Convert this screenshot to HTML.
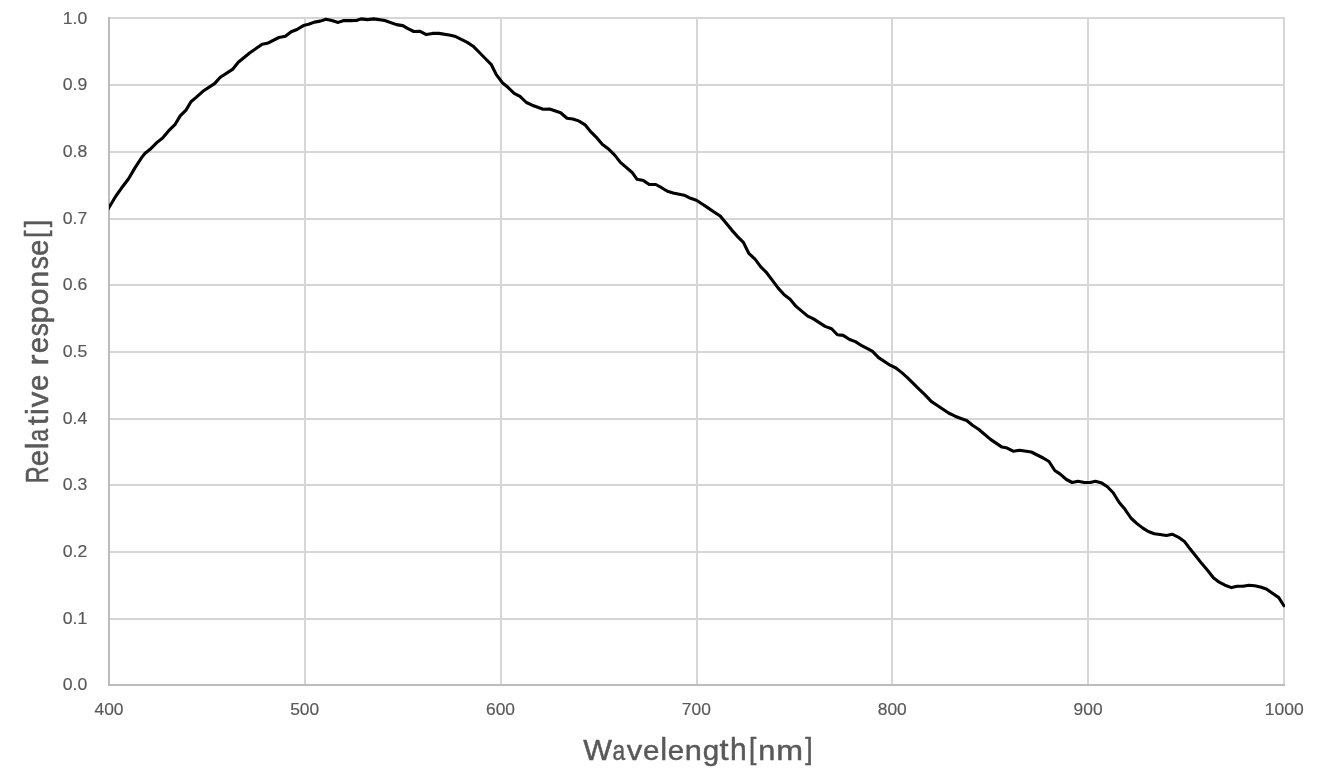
<!DOCTYPE html>
<html><head><meta charset="utf-8"><title>Relative response</title>
<style>
html,body{margin:0;padding:0;background:#fff;}
body{width:1319px;height:778px;overflow:hidden;}
svg{display:block;will-change:transform;}
text{font-family:"Liberation Sans",sans-serif;fill:#595959;}
.t{font-size:17.2px;stroke:#595959;stroke-width:0.18px;}
.a{font-size:29.5px;}
</style></head><body>
<svg width="1319" height="778" viewBox="0 0 1319 778">
<rect x="0" y="0" width="1319" height="778" fill="#ffffff"/>
<g stroke="#d6d6d6" stroke-width="2.0" fill="none">
<line x1="109.00" y1="619.00" x2="1285.00" y2="619.00"/>
<line x1="109.00" y1="552.00" x2="1285.00" y2="552.00"/>
<line x1="109.00" y1="485.00" x2="1285.00" y2="485.00"/>
<line x1="109.00" y1="419.00" x2="1285.00" y2="419.00"/>
<line x1="109.00" y1="352.00" x2="1285.00" y2="352.00"/>
<line x1="109.00" y1="285.00" x2="1285.00" y2="285.00"/>
<line x1="109.00" y1="219.00" x2="1285.00" y2="219.00"/>
<line x1="109.00" y1="152.00" x2="1285.00" y2="152.00"/>
<line x1="109.00" y1="85.00" x2="1285.00" y2="85.00"/>
<line x1="109.00" y1="18.00" x2="1285.00" y2="18.00"/>
<line x1="305.00" y1="17.00" x2="305.00" y2="685.00"/>
<line x1="501.00" y1="17.00" x2="501.00" y2="685.00"/>
<line x1="697.00" y1="17.00" x2="697.00" y2="685.00"/>
<line x1="892.00" y1="17.00" x2="892.00" y2="685.00"/>
<line x1="1088.00" y1="17.00" x2="1088.00" y2="685.00"/>
<line x1="1284.00" y1="17.00" x2="1284.00" y2="685.00"/>
</g>
<g stroke="#bcbcbc" stroke-width="2.0" fill="none">
<line x1="109.00" y1="17.00" x2="109.00" y2="686.00"/>
<line x1="108.00" y1="685.00" x2="1285.00" y2="685.00"/>
</g>
<clipPath id="pc"><rect x="109" y="0" width="1176" height="778"/></clipPath>
<path clip-path="url(#pc)" d="M106.0 212.5 L109.0 207.5 L115.9 196.0 L121.7 187.8 L128.4 179.0 L135.1 167.6 L141.8 157.4 L145.1 153.2 L150.1 149.3 L156.8 142.6 L162.6 138.0 L168.5 130.9 L175.2 124.3 L180.2 115.9 L186.0 110.1 L191.0 101.7 L196.4 97.1 L202.9 91.3 L214.5 83.6 L220.3 77.2 L232.5 69.4 L238.3 62.3 L249.9 52.7 L262.2 44.3 L267.3 43.3 L278.9 37.5 L285.4 36.3 L291.2 31.8 L297.0 29.5 L303.4 25.6 L308.6 24.3 L314.4 22.1 L320.2 21.1 L326.0 19.2 L331.8 20.5 L338.2 22.4 L344.0 20.5 L350.0 20.6 L356.4 20.5 L361.0 18.9 L367.4 19.6 L373.8 18.9 L384.8 20.5 L396.4 24.6 L402.8 25.6 L408.0 28.6 L413.8 31.5 L420.2 31.4 L426.3 34.6 L432.5 33.4 L438.9 33.4 L450.5 35.3 L455.7 36.6 L467.3 42.4 L473.1 46.2 L478.9 52.0 L485.3 58.5 L491.1 64.3 L496.3 74.6 L502.7 83.0 L507.9 87.3 L514.2 93.4 L520.0 96.4 L526.4 102.5 L532.2 105.2 L543.2 109.3 L549.6 109.0 L560.6 112.8 L567.0 118.3 L572.8 119.0 L578.6 120.9 L585.1 124.8 L590.9 131.9 L596.7 137.7 L602.5 144.5 L608.9 149.3 L614.7 155.1 L620.4 162.4 L631.9 172.2 L637.1 179.3 L643.5 180.6 L649.3 184.5 L655.8 184.5 L661.6 187.7 L667.4 191.3 L673.2 193.1 L684.1 195.2 L690.6 198.3 L696.4 200.3 L702.2 204.0 L708.0 207.9 L714.4 212.2 L720.2 216.0 L726.0 223.1 L731.8 230.1 L737.6 236.6 L743.4 242.4 L748.8 253.3 L755.0 259.1 L760.8 266.9 L766.6 272.7 L772.4 280.4 L778.2 288.1 L784.2 294.8 L790.1 299.2 L796.1 306.4 L807.7 316.1 L813.5 318.9 L825.1 326.4 L831.6 328.7 L837.4 334.8 L843.2 335.4 L849.6 339.5 L855.4 341.6 L861.8 345.7 L872.2 351.1 L878.6 357.6 L890.1 365.2 L895.9 368.0 L901.8 372.6 L907.4 377.6 L919.0 389.1 L924.8 394.6 L931.2 401.4 L937.0 405.3 L948.6 413.0 L955.1 416.2 L960.9 418.5 L966.7 420.5 L972.5 425.2 L978.9 429.5 L990.5 439.4 L1002.0 447.1 L1007.2 448.1 L1013.6 451.3 L1019.4 450.3 L1031.3 452.0 L1043.2 458.0 L1049.0 461.5 L1054.8 470.5 L1059.9 473.9 L1066.4 479.5 L1072.2 482.5 L1078.0 481.2 L1084.4 482.5 L1090.2 482.5 L1095.4 481.2 L1101.8 483.1 L1107.4 486.7 L1113.2 492.8 L1119.2 502.5 L1125.0 509.3 L1130.9 518.0 L1136.7 523.4 L1142.5 527.9 L1148.3 531.5 L1154.4 533.7 L1159.9 534.5 L1166.4 535.5 L1172.2 534.2 L1178.6 537.3 L1184.4 541.4 L1190.2 549.1 L1196.0 556.2 L1201.8 563.6 L1207.9 570.7 L1213.4 577.7 L1219.2 582.2 L1225.0 585.2 L1231.5 587.6 L1237.3 586.3 L1243.1 586.3 L1248.9 585.2 L1254.7 585.8 L1260.5 587.0 L1266.3 589.0 L1272.1 593.0 L1278.8 597.6 L1283.9 605.8" fill="none" stroke="#000000" stroke-width="3.1" stroke-linejoin="round" stroke-linecap="round"/>
<text class="t" x="87.2" y="690.00" text-anchor="end" textLength="24.5" lengthAdjust="spacingAndGlyphs">0.0</text>
<text class="t" x="87.2" y="624.00" text-anchor="end" textLength="24.5" lengthAdjust="spacingAndGlyphs">0.1</text>
<text class="t" x="87.2" y="556.82" text-anchor="end" textLength="24.5" lengthAdjust="spacingAndGlyphs">0.2</text>
<text class="t" x="87.2" y="490.23" text-anchor="end" textLength="24.5" lengthAdjust="spacingAndGlyphs">0.3</text>
<text class="t" x="87.2" y="423.64" text-anchor="end" textLength="24.5" lengthAdjust="spacingAndGlyphs">0.4</text>
<text class="t" x="87.2" y="357.05" text-anchor="end" textLength="24.5" lengthAdjust="spacingAndGlyphs">0.5</text>
<text class="t" x="87.2" y="290.46" text-anchor="end" textLength="24.5" lengthAdjust="spacingAndGlyphs">0.6</text>
<text class="t" x="87.2" y="223.87" text-anchor="end" textLength="24.5" lengthAdjust="spacingAndGlyphs">0.7</text>
<text class="t" x="87.2" y="157.28" text-anchor="end" textLength="24.5" lengthAdjust="spacingAndGlyphs">0.8</text>
<text class="t" x="87.2" y="90.00" text-anchor="end" textLength="24.5" lengthAdjust="spacingAndGlyphs">0.9</text>
<text class="t" x="87.2" y="24.10" text-anchor="end" textLength="24.5" lengthAdjust="spacingAndGlyphs">1.0</text>
<text class="t" x="109.05" y="714.8" text-anchor="middle" textLength="29.0" lengthAdjust="spacingAndGlyphs">400</text>
<text class="t" x="304.66" y="714.8" text-anchor="middle" textLength="29.0" lengthAdjust="spacingAndGlyphs">500</text>
<text class="t" x="500.52" y="714.8" text-anchor="middle" textLength="29.0" lengthAdjust="spacingAndGlyphs">600</text>
<text class="t" x="696.38" y="714.8" text-anchor="middle" textLength="29.0" lengthAdjust="spacingAndGlyphs">700</text>
<text class="t" x="892.24" y="714.8" text-anchor="middle" textLength="29.0" lengthAdjust="spacingAndGlyphs">800</text>
<text class="t" x="1088.10" y="714.8" text-anchor="middle" textLength="29.0" lengthAdjust="spacingAndGlyphs">900</text>
<text class="t" x="1284.21" y="714.8" text-anchor="middle" textLength="38.9" lengthAdjust="spacingAndGlyphs">1000</text>
<g class="a" stroke="#595959" stroke-width="0.5" stroke-linejoin="round">
<text transform="translate(597.50 760.0) scale(1.03 0.985)" x="-13.94" y="0">W</text>
<text transform="translate(619.40 760.0) scale(0.77 0.96)" x="-8.83" y="0">a</text>
<text transform="translate(634.60 760.0) scale(1.05 0.96)" x="-7.38" y="0">v</text>
<text transform="translate(651.20 760.0) scale(1.0 0.96)" x="-8.17" y="0">e</text>
<text transform="translate(663.70 760.0) scale(1.05 1.05)" x="-3.28" y="0">l</text>
<text transform="translate(676.00 760.0) scale(1.0 0.96)" x="-8.17" y="0">e</text>
<text transform="translate(693.25 760.0) scale(1.04 0.96)" x="-8.22" y="0">n</text>
<text transform="translate(710.55 760.0) scale(1.0 0.96)" x="-7.87" y="0">g</text>
<text transform="translate(724.05 760.0) scale(1.1 0.97)" x="-4.21" y="0">t</text>
<text transform="translate(738.35 760.0) scale(1.02 1.05)" x="-8.27" y="0">h</text>
<text transform="translate(753.50 760.0) scale(0.9 1.0)" x="-5.03" y="-1.2">&#91;</text>
<text transform="translate(766.75 760.0) scale(1.04 0.96)" x="-8.22" y="0">n</text>
<text transform="translate(789.60 760.0) scale(1.09 0.96)" x="-12.29" y="0">m</text>
<text transform="translate(808.05 760.0) scale(0.9 1.0)" x="-3.16" y="-1.2">&#93;</text>
<text transform="translate(47.6 474.32) rotate(-90) scale(0.8 1.035)" x="-11.18" y="0">R</text>
<text transform="translate(47.6 458.04) rotate(-90) scale(1.0 1)" x="-8.17" y="0">e</text>
<text transform="translate(47.6 445.75) rotate(-90) scale(1.05 1.09)" x="-3.28" y="0">l</text>
<text transform="translate(47.6 434.78) rotate(-90) scale(0.77 1)" x="-8.83" y="0">a</text>
<text transform="translate(47.6 420.52) rotate(-90) scale(1.1 1.03)" x="-4.21" y="0">t</text>
<text transform="translate(47.6 411.48) rotate(-90) scale(1.05 1.09)" x="-3.27" y="0">i</text>
<text transform="translate(47.6 399.47) rotate(-90) scale(1.05 1)" x="-7.38" y="0">v</text>
<text transform="translate(47.6 382.93) rotate(-90) scale(1.0 1)" x="-8.17" y="0">e</text>
<text transform="translate(47.6 359.09) rotate(-90) scale(1.12 1)" x="-5.65" y="0">r</text>
<text transform="translate(47.6 345.19) rotate(-90) scale(1.0 1)" x="-8.17" y="0">e</text>
<text transform="translate(47.6 329.87) rotate(-90) scale(0.89 1)" x="-7.25" y="0">s</text>
<text transform="translate(47.6 314.68) rotate(-90) scale(1.05 1)" x="-8.53" y="0">p</text>
<text transform="translate(47.6 296.89) rotate(-90) scale(1.03 1)" x="-8.20" y="0">o</text>
<text transform="translate(47.6 279.10) rotate(-90) scale(1.04 1)" x="-8.22" y="0">n</text>
<text transform="translate(47.6 262.81) rotate(-90) scale(0.89 1)" x="-7.25" y="0">s</text>
<text transform="translate(47.6 247.79) rotate(-90) scale(1.0 1)" x="-8.17" y="0">e</text>
<text transform="translate(47.6 233.40) rotate(-90) scale(0.9 1.03)" x="-5.03" y="-1.2">&#91;</text>
<text transform="translate(47.6 224.53) rotate(-90) scale(0.9 1.03)" x="-3.16" y="-1.2">&#93;</text>
</g>
</svg></body></html>
